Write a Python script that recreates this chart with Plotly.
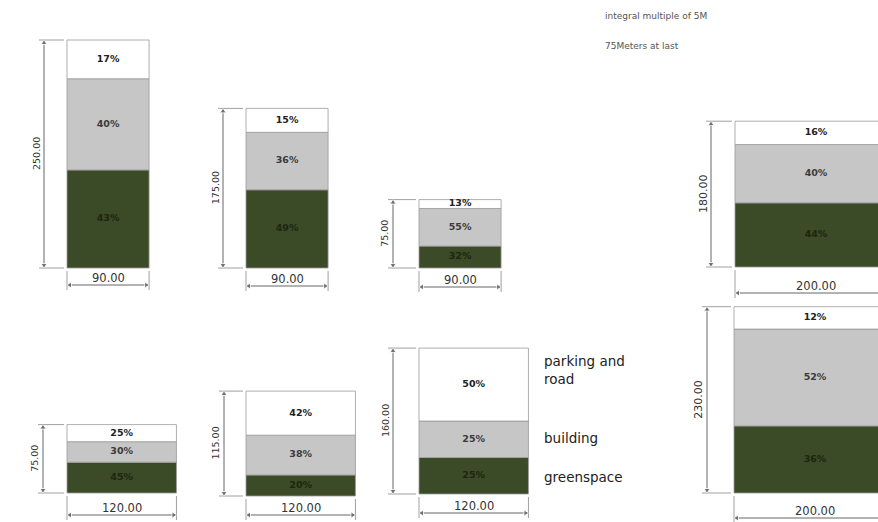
import plotly.graph_objects as go

# ---------------- data ----------------
block_names = ["A1", "A2", "A3", "B1", "B2", "B3", "C1", "C2"]
heights_m = [250, 175, 75, 75, 115, 160, 180, 230]
widths_m = [90, 90, 90, 120, 120, 120, 200, 200]
greenspace_pct = [43, 49, 32, 45, 20, 25, 44, 36]
building_pct = [40, 36, 55, 30, 38, 25, 40, 52]
parking_pct = [17, 15, 13, 25, 42, 50, 16, 12]
legend_labels = ["parking and<br>road", "building", "greenspace"]
notes = ["integral multiple of 5M", "75Meters at last"]

# ---------------- layout (page pixels) ----------------
PAGE_OFF = 0                      # body margin removed by post_script
W, H = 878, 522
px_per_m = [0.912, 0.912, 0.912, 0.912, 0.912, 0.912, 0.81, 0.81]
panel = [1, 1, 1, 1, 1, 1, 2, 2]
left_px = [67, 246, 419, 67, 246, 419, 735, 734]
bottom_px = [268, 268, 268, 493, 496, 494, 267, 493]
vdim_off = [23, 23, 26, 24, 22, 26, 24, 27]
hdim_off = [17, 18, 19, 22, 19, 19, 26, 25]
vdim_font = [9.5, 9.5, 9.5, 9.5, 9.5, 9.5, 11, 11]
legend_x_px = 542
legend_y_px = [370, 438, 477]
notes_x_px = 603
notes_y_px = [16, 46]

GREEN = "#3b4a27"
GREY = "#c6c6c6"
WHITE = "#ffffff"
seg_cols = [GREEN, GREY, WHITE]
txt_cols = ["#1c2610", "#3a3a3a", "#222222"]
LINE = "#555555"
FONT = "DejaVu Sans, Verdana, sans-serif"


def fx(px):
    return px - PAGE_OFF


def fy(py):
    return H - (py - PAGE_OFF)


fig = go.Figure()
annotations = []

for i in range(len(block_names)):
    s = px_per_m[i]
    xa, ya = ("x", "y") if panel[i] == 1 else ("x2", "y2")
    ox = fx(left_px[i]) / s
    oy = fy(bottom_px[i]) / s
    w = widths_m[i]
    h = heights_m[i]
    pcts = [greenspace_pct[i], building_pct[i], parking_pct[i]]
    base = oy
    for k, p in enumerate(pcts):
        sh = h * p / 100.0
        fig.add_trace(go.Bar(
            x=[ox + w / 2], y=[sh], base=[base], width=[w],
            marker=dict(color=seg_cols[k], line=dict(color="#9a9a9a", width=0.8)),
            xaxis=xa, yaxis=ya, showlegend=False, hoverinfo="skip"))
        fig.add_trace(go.Scatter(
            x=[ox + w / 2], y=[base + sh / 2], mode="text", text=[f"{p}%"],
            textfont=dict(family=FONT, size=9.5, color=txt_cols[k], weight="bold"),
            xaxis=xa, yaxis=ya, showlegend=False, hoverinfo="skip"))
        base += sh

    # vertical dimension
    dx = ox - vdim_off[i] / s
    fig.add_trace(go.Scatter(
        x=[dx, dx], y=[oy, oy + h], mode="lines",
        line=dict(color=LINE, width=0.9), xaxis=xa, yaxis=ya,
        showlegend=False, hoverinfo="skip"))
    for yy in (oy, oy + h):
        fig.add_trace(go.Scatter(
            x=[dx - 5 / s, ox - 3 / s], y=[yy, yy], mode="lines",
            line=dict(color="#888888", width=0.8), xaxis=xa, yaxis=ya,
            showlegend=False, hoverinfo="skip"))
    fig.add_trace(go.Scatter(
        x=[dx, dx], y=[oy + 3 / s, oy + h - 3 / s], mode="markers",
        marker=dict(symbol=["triangle-down", "triangle-up"], size=[6, 6], color=LINE),
        xaxis=xa, yaxis=ya, showlegend=False, hoverinfo="skip"))
    annotations.append(dict(
        x=dx - 8 / s, y=oy + h / 2, xref=xa, yref=ya, text=f"{h:.2f}",
        textangle=-90, showarrow=False, xanchor="center", yanchor="middle",
        font=dict(family=FONT, size=vdim_font[i], color="#333333")))

    # horizontal dimension
    hy = oy - hdim_off[i] / s
    fig.add_trace(go.Scatter(
        x=[ox, ox + w], y=[hy, hy], mode="lines",
        line=dict(color=LINE, width=0.9), xaxis=xa, yaxis=ya,
        showlegend=False, hoverinfo="skip"))
    for xx in (ox, ox + w):
        fig.add_trace(go.Scatter(
            x=[xx, xx], y=[oy - 3 / s, hy - 5 / s], mode="lines",
            line=dict(color="#888888", width=0.8), xaxis=xa, yaxis=ya,
            showlegend=False, hoverinfo="skip"))
    fig.add_trace(go.Scatter(
        x=[ox + 3 / s, ox + w - 3 / s], y=[hy, hy], mode="markers",
        marker=dict(symbol=["triangle-left", "triangle-right"], size=[6, 6], color=LINE),
        xaxis=xa, yaxis=ya, showlegend=False, hoverinfo="skip"))
    annotations.append(dict(
        x=ox + w / 2, y=hy + 7 / s, xref=xa, yref=ya, text=f"{w:.2f}",
        showarrow=False, xanchor="center", yanchor="middle",
        font=dict(family=FONT, size=11.5, color="#333333")))

for lab, ly in zip(legend_labels, legend_y_px):
    annotations.append(dict(
        x=fx(legend_x_px) / W, y=fy(ly) / H, xref="paper", yref="paper", text=lab,
        showarrow=False, xanchor="left", yanchor="middle", align="left",
        font=dict(family=FONT, size=13.5, color="#222222")))

for nt, ny in zip(notes, notes_y_px):
    annotations.append(dict(
        x=fx(notes_x_px) / W, y=fy(ny) / H, xref="paper", yref="paper", text=nt,
        showarrow=False, xanchor="left", yanchor="middle",
        font=dict(family=FONT, size=9, color="#555555")))

s1 = px_per_m[0]
s2 = px_per_m[-1]
axis_common = dict(visible=False, showgrid=False, zeroline=False, fixedrange=True)
fig.update_layout(
    width=W, height=H, autosize=False,
    margin=dict(l=0, r=0, t=0, b=0, pad=0),
    paper_bgcolor="white", plot_bgcolor="white",
    barmode="overlay", showlegend=False, hovermode=False,
    xaxis=dict(range=[0, W / s1], domain=[0, 1], **axis_common),
    yaxis=dict(range=[0, H / s1], domain=[0, 1], **axis_common),
    xaxis2=dict(range=[0, W / s2], domain=[0, 1], overlaying="x", anchor="y2", **axis_common),
    yaxis2=dict(range=[0, H / s2], domain=[0, 1], overlaying="y", anchor="x2", **axis_common),
    annotations=annotations,
)

fig.write_html(
    "out.html",
    config={"displayModeBar": False, "staticPlot": True},
    post_script="document.body.style.margin='0';document.body.style.overflow='hidden';",
)
